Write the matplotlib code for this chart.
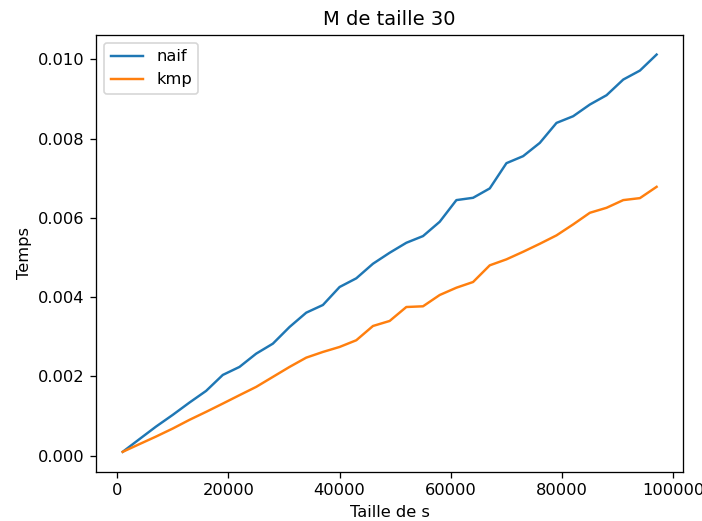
import matplotlib
matplotlib.use("Agg")
import matplotlib.pyplot as plt

# tailles de s testees
tailles = [1000, 4000, 7000, 10000, 13000, 16000, 19000, 22000, 25000,
           28000, 31000, 34000, 37000, 40000, 43000, 46000, 49000, 52000,
           55000, 58000, 61000, 64000, 67000, 70000, 73000, 76000, 79000,
           82000, 85000, 88000, 91000, 94000, 97000]

temps_naif = [0.000093, 0.000413, 0.000731, 0.001026, 0.001336, 0.001631,
              0.002034, 0.002236, 0.002571, 0.002823, 0.003244, 0.003605,
              0.003799, 0.004253, 0.004472, 0.004840, 0.005117, 0.005369,
              0.005538, 0.005899, 0.006446, 0.006504, 0.006741, 0.007378,
              0.007555, 0.007890, 0.008394, 0.008563, 0.008858, 0.009093,
              0.009488, 0.009715, 0.010119]

temps_kmp = [0.000093, 0.000287, 0.000479, 0.000681, 0.000900, 0.001102,
             0.001311, 0.001523, 0.001732, 0.001984, 0.002236, 0.002470,
             0.002614, 0.002740, 0.002909, 0.003269, 0.003396, 0.003748,
             0.003766, 0.004051, 0.004235, 0.004379, 0.004800, 0.004951,
             0.005142, 0.005344, 0.005556, 0.005833, 0.006126, 0.006252,
             0.006446, 0.006496, 0.006781]

fig = plt.figure(figsize=(6.0, 521 / 117), dpi=117)
ax = fig.add_axes([96 / 702, 1 - 471.7 / 521, 587.3 / 702, 437 / 521])

ax.plot(tailles, temps_naif, label="naif")
ax.plot(tailles, temps_kmp, label="kmp")

ax.set_title("M de taille 30")
ax.set_xlabel("Taille de s")
ax.set_ylabel("Temps")
ax.legend(loc="upper left")

fig.savefig("out.png", dpi=117)
